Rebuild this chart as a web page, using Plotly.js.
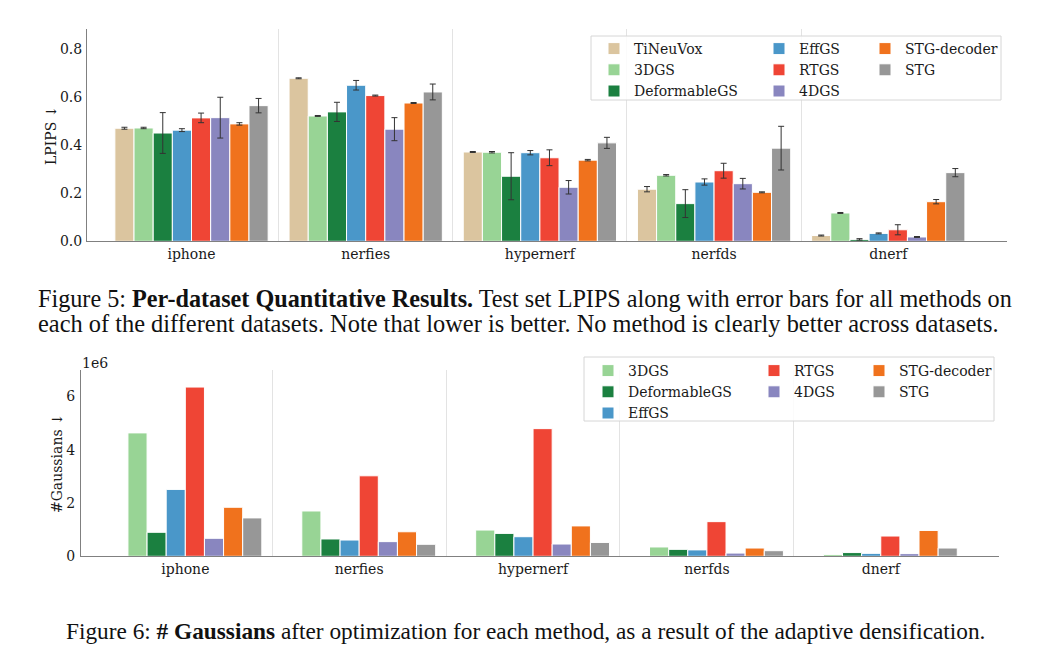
<!DOCTYPE html>
<html><head><meta charset="utf-8">
<script src="https://cdn.plot.ly/plotly-3.0.1.min.js"></script>
<style>html,body{margin:0;padding:0;background:#fff}#chart{width:1056px;height:654px}</style>
</head><body><div id="chart"></div>
<script>
// ---------- data ----------
const datasets = ['iphone', 'nerfies', 'hypernerf', 'nerfds', 'dnerf'];
const methods = ['TiNeuVox', '3DGS', 'DeformableGS', 'EffGS', 'RTGS', '4DGS', 'STG-decoder', 'STG'];
const methodColors = ['#dbc59f', '#98d495', '#1b8040', '#4a97c9', '#ef4535', '#8986bf', '#f0721d', '#979797'];

// LPIPS (mean) per dataset
const lpipsTiNeuVox    = [0.471, 0.679, 0.372, 0.217, 0.024];
const lpips3DGS        = [0.472, 0.522, 0.371, 0.275, 0.118];
const lpipsDeformGS    = [0.451, 0.539, 0.271, 0.157, 0.008];
const lpipsEffGS       = [0.463, 0.650, 0.369, 0.247, 0.033];
const lpipsRTGS        = [0.514, 0.607, 0.348, 0.294, 0.048];
const lpips4DGS        = [0.515, 0.467, 0.225, 0.240, 0.018];
const lpipsSTGdecoder  = [0.489, 0.576, 0.338, 0.204, 0.165];
const lpipsSTG         = [0.565, 0.622, 0.410, 0.388, 0.286];
// LPIPS error (half-length)
const errTiNeuVox   = [0.004, 0.002, 0.002, 0.011, 0.002];
const err3DGS       = [0.003, 0.002, 0.003, 0.003, 0.002];
const errDeformGS   = [0.085, 0.040, 0.098, 0.058, 0.003];
const errEffGS      = [0.006, 0.020, 0.009, 0.013, 0.002];
const errRTGS       = [0.020, 0.002, 0.033, 0.031, 0.021];
const err4DGS       = [0.085, 0.048, 0.028, 0.022, 0.002];
const errSTGdecoder = [0.005, 0.002, 0.003, 0.002, 0.009];
const errSTG        = [0.030, 0.033, 0.023, 0.091, 0.017];

// # Gaussians per dataset (TiNeuVox has none)
const gaussTiNeuVox   = [null, null, null, null, null];
const gauss3DGS       = [4.63e6, 1.70e6, 0.985e6, 0.35e6, 0.07e6];
const gaussDeformGS   = [0.90e6, 0.65e6, 0.86e6, 0.26e6, 0.14e6];
const gaussEffGS      = [2.51e6, 0.61e6, 0.735e6, 0.24e6, 0.11e6];
const gaussRTGS       = [6.35e6, 3.02e6, 4.79e6, 1.30e6, 0.76e6];
const gauss4DGS       = [0.675e6, 0.55e6, 0.46e6, 0.12e6, 0.10e6];
const gaussSTGdecoder = [1.84e6, 0.92e6, 1.14e6, 0.31e6, 0.97e6];
const gaussSTG        = [1.44e6, 0.45e6, 0.52e6, 0.21e6, 0.31e6];

const gaussTickVals = [0, 2e6, 4e6, 6e6];
const gaussTickText = ['0', '2', '4', '6'];

const lpipsSeries = [lpipsTiNeuVox, lpips3DGS, lpipsDeformGS, lpipsEffGS, lpipsRTGS, lpips4DGS, lpipsSTGdecoder, lpipsSTG];
const errSeries = [errTiNeuVox, err3DGS, errDeformGS, errEffGS, errRTGS, err4DGS, errSTGdecoder, errSTG];
const gaussSeries = [gaussTiNeuVox, gauss3DGS, gaussDeformGS, gaussEffGS, gaussRTGS, gauss4DGS, gaussSTGdecoder, gaussSTG];

// ---------- style ----------
const W = 1056, H = 654;
const px = v => v / W;
const py = v => 1 - v / H;
const SERIF = 'DejaVu Serif';
const CAP = 'Liberation Serif';
const TXT = '#1a1a1a';
const FS = 14;
const xIdx = datasets.map((_, i) => i);
const sepVals = datasets.slice(1).map((_, i) => i + 0.5);

// legend column of each method (top: 3/3/2, bottom: 3/2/2)
const topLegendOf = ['legend', 'legend', 'legend', 'legend2', 'legend2', 'legend2', 'legend3', 'legend3'];
const botLegendOf = [null, 'legend4', 'legend4', 'legend4', 'legend5', 'legend5', 'legend6', 'legend6'];

const traces = [];
methods.forEach((m, i) => {
  traces.push({
    type: 'bar', name: m, x: xIdx, y: lpipsSeries[i],
    xaxis: 'x', yaxis: 'y', legend: topLegendOf[i],
    marker: {color: methodColors[i], line: {color: '#ffffff', width: 1}},
    error_y: {type: 'data', array: errSeries[i], visible: true, color: '#333333', thickness: 1, width: 3},
    hoverinfo: 'skip'
  });
});
methods.forEach((m, i) => {
  traces.push({
    type: 'bar', name: m, x: xIdx, y: gaussSeries[i],
    xaxis: 'x2', yaxis: 'y2',
    legend: botLegendOf[i] || 'legend4', showlegend: botLegendOf[i] !== null,
    marker: {color: methodColors[i], line: {color: '#ffffff', width: 1}},
    hoverinfo: 'skip'
  });
});

const xCommon = {
  tickmode: 'array', tickvals: xIdx, ticktext: datasets,
  range: [-0.6, 4.68], showgrid: false, zeroline: false,
  showline: true, linecolor: '#808080', linewidth: 1, ticks: '',
  ticklabelstandoff: 0,
  tickfont: {family: SERIF, size: FS, color: TXT},
  minor: {tickmode: 'array', tickvals: sepVals, showgrid: true, gridcolor: '#e3e3e3', gridwidth: 1, ticks: ''},
  fixedrange: true
};
const legendCommon = {
  bgcolor: 'rgba(0,0,0,0)', borderwidth: 0, xanchor: 'left', yanchor: 'top',
  orientation: 'v', tracegroupgap: 0, itemwidth: 30,
  font: {family: SERIF, size: FS, color: TXT}
};

const layout = {
  width: W, height: H, margin: {l: 0, r: 0, t: 0, b: 0},
  paper_bgcolor: '#ffffff', plot_bgcolor: '#ffffff',
  barmode: 'group', bargap: 0.12, bargroupgap: 0,
  showlegend: true,
  xaxis: Object.assign({}, xCommon, {domain: [px(87), px(1006.7)], anchor: 'y'}),
  yaxis: {
    domain: [py(241.3), py(29.3)], anchor: 'x', range: [0, 0.883],
    tickmode: 'array', tickvals: [0, 0.2, 0.4, 0.6, 0.8], tickformat: '.1f',
    showgrid: false, zeroline: false, showline: true, linecolor: '#808080', linewidth: 1,
    ticks: '', ticklabelstandoff: 1,
    tickfont: {family: SERIF, size: FS, color: TXT},
    title: {text: 'LPIPS ↓', font: {family: SERIF, size: FS, color: TXT}, standoff: 0},
    fixedrange: true
  },
  xaxis2: Object.assign({}, xCommon, {domain: [px(81), px(999)], anchor: 'y2'}),
  yaxis2: {
    domain: [py(556.3), py(370)], anchor: 'x2', range: [0, 6.99e6],
    tickmode: 'array', tickvals: gaussTickVals, ticktext: gaussTickText,
    showgrid: false, zeroline: false, showline: true, linecolor: '#808080', linewidth: 1,
    ticks: '', ticklabelstandoff: 2,
    tickfont: {family: SERIF, size: FS, color: TXT},
    title: {text: '#Gaussians ↓', font: {family: SERIF, size: FS, color: TXT}, standoff: 0},
    fixedrange: true
  },
  legend:  Object.assign({}, legendCommon, {x: px(594), y: py(33)}),
  legend2: Object.assign({}, legendCommon, {x: px(759), y: py(33)}),
  legend3: Object.assign({}, legendCommon, {x: px(865), y: py(33)}),
  legend4: Object.assign({}, legendCommon, {x: px(588), y: py(355)}),
  legend5: Object.assign({}, legendCommon, {x: px(754), y: py(355)}),
  legend6: Object.assign({}, legendCommon, {x: px(859), y: py(355)}),
  shapes: [
    {type: 'rect', xref: 'paper', yref: 'paper', x0: px(591), x1: px(1001), y0: py(100), y1: py(36),
     fillcolor: 'rgba(255,255,255,0.85)', line: {color: '#d6d6d6', width: 1}, layer: 'above'},
    {type: 'rect', xref: 'paper', yref: 'paper', x0: px(584), x1: px(994), y0: py(421), y1: py(357),
     fillcolor: 'rgba(255,255,255,0.85)', line: {color: '#d6d6d6', width: 1}, layer: 'above'}
  ],
  annotations: [
    {xref: 'paper', yref: 'paper', x: px(80), y: py(363), xanchor: 'left', yanchor: 'middle',
     text: '1e6', showarrow: false, font: {family: SERIF, size: FS, color: TXT}},
    {xref: 'paper', yref: 'paper', x: px(36), y: py(298), xanchor: 'left', yanchor: 'middle', showarrow: false,
     text: 'Figure 5: <b>Per-dataset Quantitative Results.</b> Test set LPIPS along with error bars for all methods on',
     font: {family: CAP, size: 24.2, color: '#111'}},
    {xref: 'paper', yref: 'paper', x: px(36), y: py(323), xanchor: 'left', yanchor: 'middle', showarrow: false,
     text: 'each of the different datasets. Note that lower is better. No method is clearly better across datasets.',
     font: {family: CAP, size: 24.4, color: '#111'}},
    {xref: 'paper', yref: 'paper', x: px(525), y: py(631), xanchor: 'center', yanchor: 'middle', showarrow: false,
     text: 'Figure 6: <b># Gaussians</b> after optimization for each method, as a result of the adaptive densification.',
     font: {family: CAP, size: 23.3, color: '#111'}}
  ]
};

Plotly.newPlot('chart', traces, layout, {staticPlot: true, displayModeBar: false});
</script>
</body></html>
